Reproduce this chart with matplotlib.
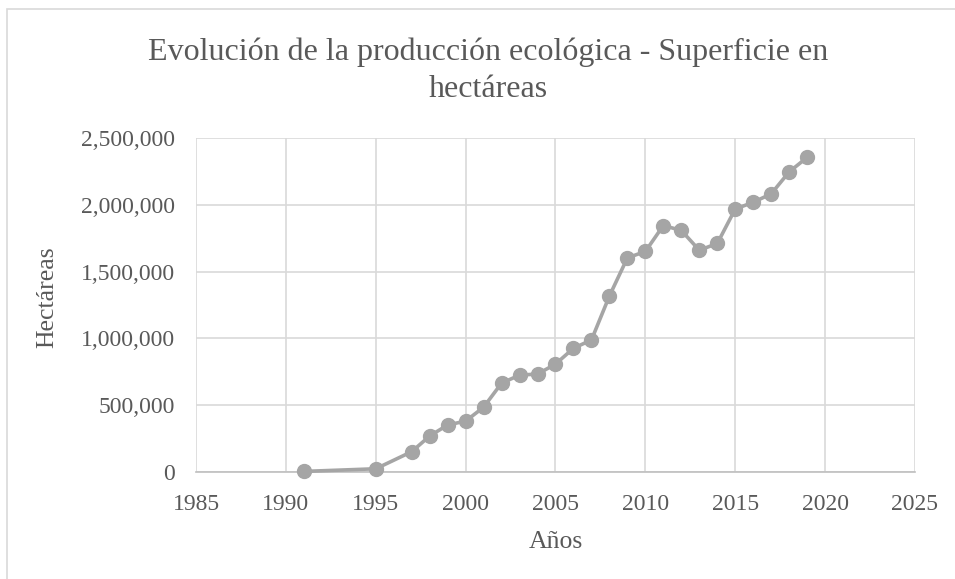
import matplotlib
matplotlib.use('Agg')
import matplotlib.pyplot as plt
from matplotlib.patches import Rectangle
from matplotlib.ticker import FuncFormatter

plt.rcParams['font.family'] = ['Liberation Serif', 'DejaVu Serif']

years = [1991, 1995, 1997, 1998, 1999, 2000, 2001, 2002, 2003, 2004, 2005,
         2006, 2007, 2008, 2009, 2010, 2011, 2012, 2013, 2014, 2015, 2016,
         2017, 2018, 2019]
hectares = [4235, 24078, 152105, 269465, 352164, 380838, 485079, 665055,
            725254, 733182, 807569, 926390, 988323, 1317752, 1602868,
            1650866, 1845039, 1808000, 1660000, 1710475, 1968570, 2018802,
            2082173, 2246475, 2354916]

title_lines = ['Evolución de la producción ecológica - Superficie en',
               'hectáreas']
x_label = 'Años'
y_label = 'Hectáreas'
text_color = '#595959'
line_color = '#A5A5A5'

W, H = 955, 579
fig = plt.figure(figsize=(W / 100, H / 100), dpi=100)
# plot area in pixels: x 196..915, y 138..472
ax = fig.add_axes([196 / W, 1 - 472 / H, (915 - 196) / W, (472 - 138) / H])

ax.plot(years, hectares, color=line_color, linewidth=2.6, marker='o',
        markersize=10, markeredgecolor=line_color, markerfacecolor=line_color,
        zorder=3, clip_on=False)

ax.set_xlim(1985, 2025)
ax.set_ylim(0, 2500000)
ax.set_xticks(range(1985, 2026, 5))
ax.set_yticks(range(0, 2500001, 500000))
ax.yaxis.set_major_formatter(FuncFormatter(lambda v, p: f'{int(v):,}'))

ax.grid(True, color='#D9D9D9', linewidth=1.2)
ax.set_axisbelow(True)
for side in ['top', 'right', 'left']:
    ax.spines[side].set_visible(False)
ax.spines['bottom'].set_color('#BFBFBF')
ax.spines['bottom'].set_linewidth(1.2)
ax.tick_params(length=0, labelsize=17, colors=text_color)
ax.tick_params(axis='x', pad=16)
ax.tick_params(axis='y', pad=15)

# axis titles, anchored on their baselines
fig.text(555.5 / W, 1 - 548 / H, x_label, ha='center', va='baseline',
         fontsize=18.5, color=text_color)
fig.text(53 / W, 1 - 297 / H, y_label, ha='center', va='baseline',
         rotation=90, rotation_mode='anchor', fontsize=18.5, color=text_color)

# chart title, two centred lines
for line, base in zip(title_lines, [60, 97]):
    fig.text(488 / W, 1 - base / H, line, ha='center', va='baseline',
             fontsize=23, color=text_color)

fig.patches.append(Rectangle((7 / W, -0.01), 1.0, 1 - 9 / H + 0.01,
                             transform=fig.transFigure, fill=False,
                             edgecolor='#D9D9D9', linewidth=1.2))

fig.savefig('out.png', dpi=100)
